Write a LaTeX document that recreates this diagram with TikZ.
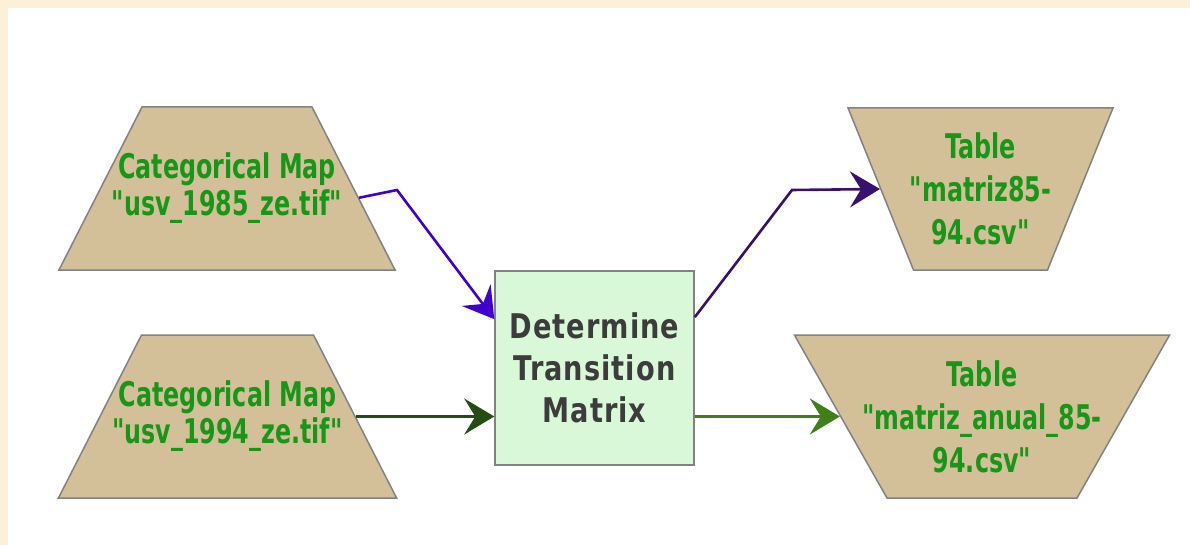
\documentclass[tikz,border=0pt]{standalone}
\usepackage{fontspec}
\newfontfamily\diagfont{DejaVu Sans}[FakeStretch=0.7]
\newfontfamily\boxfont{DejaVu Sans}[FakeStretch=0.8, LetterSpace=3]
\usetikzlibrary{arrows.meta, shapes.geometric, calc}

\definecolor{paper}{RGB}{252,240,216}
\definecolor{tanfill}{RGB}{212,192,152}
\definecolor{edgegray}{RGB}{130,130,130}
\definecolor{boxgreen}{RGB}{216,248,216}
\definecolor{txtgreen}{RGB}{24,150,24}
\definecolor{txtgray}{RGB}{60,60,60}
\definecolor{arrblue}{RGB}{64,0,208}
\definecolor{arrpurple}{RGB}{56,16,110}
\definecolor{arrdkgreen}{RGB}{36,76,20}
\definecolor{arrgreen}{RGB}{64,128,24}

\begin{document}
\begin{tikzpicture}[
						x=1pt, y=-1pt,
						greentext/.style = {align=center, text=txtgreen, inner sep=0pt, font=\diagfont\bfseries\fontsize{34}{37}\selectfont},
						tabtext/.style = {greentext, font=\diagfont\bfseries\fontsize{34}{43}\selectfont},
						mapin/.style = {draw=edgegray, fill=tanfill, line width=1.5pt, shape=trapezium, inner ysep=81.5pt},
						tabout/.style = {mapin, shape border rotate=180},
						process/.style = {draw=edgegray, fill=boxgreen, line width=1.5pt, minimum width=199pt, minimum height=194pt, align=center, text=txtgray, font=\boxfont\bfseries\fontsize{34}{42}\selectfont},
						flow/.style = {line width=2.6pt, -{Stealth[length=30pt, width=36pt, inset=11pt]}}
					]
\useasboundingbox (0,0) rectangle (1190,545);
\fill[paper] (0,0) rectangle (1190,545);
\fill[white] (8,8) rectangle (1190,545);

\node[process] (box) at (594.5,368) {Determine\\Transition\\Matrix};
\node[mapin] (map1) at (227,188.5) [inner xsep=85pt, trapezium left angle=63, trapezium right angle=63,
	label={[greentext]center:{Categorical Map\\"usv\_1985\_ze.tif"}}] {};
\node[mapin] (map2) at (227.5,416.5) [inner xsep=86pt, trapezium left angle=63, trapezium right angle=63,
	label={[greentext]center:{Categorical Map\\"usv\_1994\_ze.tif"}}] {};
\node[tabout] (tab1) at (980.5,189) [inner xsep=67pt, inner ysep=81pt, trapezium left angle=68, trapezium right angle=68,
	label={[tabtext]center:{Table\\"matriz85-\\94.csv"}}] {};
\node[tabout] (tab2) at (982,416.5) [inner xsep=95pt, trapezium left angle=60.4, trapezium right angle=60.4,
	label={[tabtext]center:{Table\\"matriz\_anual\_85-\\94.csv"}}] {};

\coordinate (k1) at (397,190);
\coordinate (k2) at (792,190);

\draw[flow, arrblue] (map1.-4) -- (k1) -- ($(box.north west)!0.25!(box.south west)$);
\draw[flow, arrdkgreen] (map2.0) -- (map2.0 -| box.west);
\draw[flow, arrpurple] ($(box.north east)!0.24!(box.south east)$) -- (k2) -- (tab1.180);
\draw[flow, arrgreen] (box.east |- tab2.180) -- (tab2.180);
\end{tikzpicture}
\end{document}
